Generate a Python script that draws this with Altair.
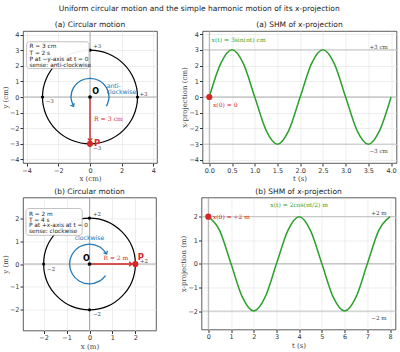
import altair as alt
import pandas as pd

SANS = "DejaVu Sans"
SERIF = "DejaVu Serif"
GREEN = "#2ca02c"
RED = "#d62728"
BLUE = "#1f77b4"
GRAY = "#9a9a9a"

# ---------------- data ----------------
# circle (a), R = 3 cm
circ_a_x = [3.0, 2.77, 2.12, 1.15, 0.0, -1.15, -2.12, -2.77, -3.0, -2.77, -2.12, -1.15, 0.0, 1.15, 2.12, 2.77]
circ_a_y = [0.0, 1.15, 2.12, 2.77, 3.0, 2.77, 2.12, 1.15, 0.0, -1.15, -2.12, -2.77, -3.0, -2.77, -2.12, -1.15]
# circle (b), R = 2 m
circ_b_x = [2.0, 1.85, 1.41, 0.77, 0.0, -0.77, -1.41, -1.85, -2.0, -1.85, -1.41, -0.77, 0.0, 0.77, 1.41, 1.85]
circ_b_y = [0.0, 0.77, 1.41, 1.85, 2.0, 1.85, 1.41, 0.77, 0.0, -0.77, -1.41, -1.85, -2.0, -1.85, -1.41, -0.77]
# blue sense arrows
arc_a_x = [1.04, 1.2, 1.04, 0.6, 0.0, -0.6, -1.04, -1.2, -1.04]
arc_a_y = [-0.6, 0.0, 0.6, 1.04, 1.2, 1.04, 0.6, 0.0, -0.6]
arc_b_x = [0.70, 0.435, 0.0, -0.435, -0.75, -0.87, -0.75, -0.435, 0.0, 0.435, 0.75]
arc_b_y = [-0.51, -0.75, -0.87, -0.75, -0.435, 0.0, 0.435, 0.75, 0.87, 0.75, 0.435]
# SHM (a): x(t) = 3 sin(pi t)
shm_a_t = [0, 0.25, 0.5, 0.75, 1.0, 1.25, 1.5, 1.75, 2.0, 2.25, 2.5, 2.75, 3.0, 3.25, 3.5, 3.75, 4.0]
shm_a_x = [0, 2.12, 3, 2.12, 0, -2.12, -3, -2.12, 0, 2.12, 3, 2.12, 0, -2.12, -3, -2.12, 0]
# SHM (b): x(t) = 2 cos(pi t / 2)
shm_b_t = [0, 0.5, 1, 1.5, 2, 2.5, 3, 3.5, 4, 4.5, 5, 5.5, 6, 6.5, 7, 7.5, 8]
shm_b_x = [2, 1.41, 0, -1.41, -2, -1.41, 0, 1.41, 2, 1.41, 0, -1.41, -2, -1.41, 0, 1.41, 2]

box_a_lines = ["R = 3 cm", "T = 2 s", "P at \u2212y-axis at t = 0", "sense: anti-clockwise"]
box_b_lines = ["R = 2 m", "T = 4 s", "P at +x-axis at t = 0", "sense: clockwise"]

CHEVRON = "M -0.7 -0.8 L 0 0 L 0.7 -0.8"


def df(**kw):
    return pd.DataFrame(kw)


def make_panel(title, xdom, ydom, xticks, yticks, xtitle, ytitle, w, h, xfmt="d"):
    def X(f="x"):
        return alt.X(f"{f}:Q", scale=alt.Scale(domain=xdom, nice=False, zero=False),
                     axis=alt.Axis(values=xticks, title=xtitle, format=xfmt, grid=True))

    def Y(f="y"):
        return alt.Y(f"{f}:Q", scale=alt.Scale(domain=ydom, nice=False, zero=False),
                     axis=alt.Axis(values=yticks, title=ytitle, format="d", grid=True))

    def X2(f):
        return alt.X2(f"{f}:Q")

    def Y2(f):
        return alt.Y2(f"{f}:Q")

    def text(d, color="#333", size=6.5, align="left", font=SANS, weight="normal", baseline="middle"):
        return alt.Chart(d).mark_text(color=color, fontSize=size, align=align, font=font,
                                      fontWeight=weight, baseline=baseline).encode(x=X(), y=Y(), text="text:N")

    def pts(d, color, size, shape="circle"):
        return alt.Chart(d).mark_point(filled=True, color=color, size=size, shape=shape, opacity=1).encode(x=X(), y=Y())

    def line(d, color, width, interp="linear"):
        return alt.Chart(d).mark_line(color=color, strokeWidth=width, interpolate=interp).encode(
            x=X(), y=Y(), order="i:Q")

    def head(d, color, angle, size=40):
        return alt.Chart(d).mark_point(shape=CHEVRON, filled=False, color=color, strokeWidth=1.2,
                                       size=size, angle=angle, opacity=1).encode(x=X(), y=Y())

    def hrule(vals, color, width=0.8):
        return alt.Chart(df(y=vals)).mark_rule(color=color, strokeWidth=width).encode(y=Y())

    def vrule(vals, color, width=0.8):
        return alt.Chart(df(x=vals)).mark_rule(color=color, strokeWidth=width).encode(x=X())

    def box(x0, x1, y0, y1):
        return alt.Chart(df(x=[x0], x2=[x1], y=[y0], y2=[y1])).mark_rect(
            fill="white", stroke="#b0b0b0", strokeWidth=0.8, cornerRadius=3, opacity=0.95
        ).encode(x=X(), x2=X2("x2"), y=Y(), y2=Y2("y2"))

    return dict(X=X, Y=Y, text=text, pts=pts, line=line, head=head, hrule=hrule, vrule=vrule, box=box,
                props=dict(width=w, height=h, title=title))


# ---------- (a) circular motion ----------
p = make_panel("(a) Circular motion", [-4.23, 4.23], [-4.23, 4.23], [-4, -2, 0, 2, 4], [-4, -3, -2, -1, 0, 1, 2, 3, 4],
               "x (cm)", "y (cm)", 134, 132)
circA = alt.layer(
    p["hrule"]([0], GRAY), p["vrule"]([0], GRAY),
    p["line"](df(x=circ_a_x, y=circ_a_y, i=list(range(len(circ_a_x)))), "black", 1.2, "cardinal-closed"),
    p["pts"](df(x=[3, -3, 0, 0], y=[0, 0, 3, -3]), "black", 10),
    p["text"](df(x=[3.12, -2.8, 0.2, 0.2], y=[0.22, -0.28, 3.25, -3.3], text=["+3", "\u22123", "+3", "\u22123"]),
              color="#444", size=5.5, font=SERIF),
    p["line"](df(x=arc_a_x, y=arc_a_y, i=list(range(len(arc_a_x)))), BLUE, 1.3, "cardinal"),
    p["head"](df(x=[arc_a_x[-1]], y=[arc_a_y[-1]]), BLUE, 330),
    p["text"](df(x=[1.05, 1.05], y=[0.72, 0.35], text=["anti-", "clockwise"]), color=BLUE, size=6.2),
    p["line"](df(x=[0, 0], y=[0, -3], i=[0, 1]), RED, 1.3),
    p["head"](df(x=[0], y=[-2.82]), RED, 0),
    p["pts"](df(x=[0], y=[-3]), RED, 38),
    p["pts"](df(x=[0], y=[0]), "black", 14),
    p["text"](df(x=[0.36], y=[0.29], text=["O"]), color="black", size=8, align="center", weight="bold"),
    p["text"](df(x=[0.25], y=[-2.95], text=["P"]), color=RED, size=8.5, weight="bold"),
    p["text"](df(x=[0.25], y=[-1.4], text=["R = 3 cm"]), color=RED, size=6.2, font=SERIF),
    p["box"](-4.0, -0.06, 1.82, 3.54),
    p["text"](df(x=[-3.82] * 4, y=[3.24, 2.85, 2.45, 2.07], text=box_a_lines), color="#222", size=5.8),
).properties(**p["props"])

# ---------- (a) SHM ----------
q = make_panel("(a) SHM of x-projection", [-0.15, 4.12], [-4.2, 4.2], [0, 0.5, 1, 1.5, 2, 2.5, 3, 3.5, 4],
               [-4, -3, -2, -1, 0, 1, 2, 3, 4], "t (s)", "x-projection (cm)", 194, 132, xfmt=".1f")
shmA = alt.layer(
    q["hrule"]([0], GRAY), q["vrule"]([0], GRAY), q["hrule"]([3, -3], "#b5b5b5"),
    q["line"](df(x=shm_a_t, y=shm_a_x, i=list(range(len(shm_a_t)))), GREEN, 1.5, "monotone"),
    q["pts"](df(x=[0], y=[0]), RED, 38),
    q["text"](df(x=[0.05], y=[3.63], text=["x(t) = 3sin(\u03c0t) cm"]), color=GREEN, size=6.0, font=SERIF),
    q["text"](df(x=[0.08], y=[-0.5], text=["x(0) = 0"]), color=RED, size=6.0, font=SERIF),
    q["text"](df(x=[3.93, 3.93], y=[3.17, -3.45], text=["+3 cm", "\u22123 cm"]), color="#444", size=5.6,
              align="right", font=SERIF),
).properties(**q["props"])

# ---------- (b) circular motion ----------
r = make_panel("(b) Circular motion", [-2.9, 2.9], [-2.9, 2.9], [-2, -1, 0, 1, 2], [-2, -1, 0, 1, 2],
               "x (m)", "y (m)", 133, 133)
circB = alt.layer(
    r["hrule"]([0], GRAY), r["vrule"]([0], GRAY),
    r["line"](df(x=circ_b_x, y=circ_b_y, i=list(range(len(circ_b_x)))), "black", 1.2, "cardinal-closed"),
    r["pts"](df(x=[2, -2, 0, 0], y=[0, 0, 2, -2]), "black", 10),
    r["text"](df(x=[2.2, -1.85, 0.15, 0.15], y=[0.14, -0.2, 2.2, -2.2], text=["+2", "\u22122", "+2", "\u22122"]),
              color="#444", size=5.5, font=SERIF),
    r["line"](df(x=arc_b_x, y=arc_b_y, i=list(range(len(arc_b_x)))), BLUE, 1.3, "cardinal"),
    r["head"](df(x=[arc_b_x[-1]], y=[arc_b_y[-1]]), BLUE, 330),
    r["text"](df(x=[0.0], y=[1.12], text=["clockwise"]), color=BLUE, size=6.2, align="center"),
    r["line"](df(x=[0, 2], y=[0, 0], i=[0, 1]), RED, 1.3),
    r["head"](df(x=[1.84], y=[0]), RED, 270),
    r["pts"](df(x=[2], y=[0]), RED, 38),
    r["pts"](df(x=[0], y=[0]), "black", 14),
    r["text"](df(x=[-0.14], y=[0.22], text=["O"]), color="black", size=8, align="center", weight="bold"),
    r["text"](df(x=[2.1], y=[0.3], text=["P"]), color=RED, size=8.5, weight="bold"),
    r["text"](df(x=[1.15], y=[0.27], text=["R = 2 m"]), color=RED, size=6.0, align="center", font=SERIF),
    r["box"](-2.77, -0.32, 1.25, 2.42),
    r["text"](df(x=[-2.64] * 4, y=[2.19, 1.94, 1.69, 1.43], text=box_b_lines), color="#222", size=5.8),
).properties(**r["props"])

# ---------- (b) SHM ----------
s = make_panel("(b) SHM of x-projection", [-0.3, 8.24], [-2.78, 2.81], [0, 1, 2, 3, 4, 5, 6, 7, 8],
               [-2, -1, 0, 1, 2], "t (s)", "x-projection (m)", 194, 132)
shmB = alt.layer(
    s["hrule"]([0], GRAY), s["vrule"]([0], GRAY), s["hrule"]([2, -2], "#b5b5b5"),
    s["line"](df(x=shm_b_t, y=shm_b_x, i=list(range(len(shm_b_t)))), GREEN, 1.5, "monotone"),
    s["pts"](df(x=[0], y=[2]), RED, 38),
    s["text"](df(x=[4.0], y=[2.5], text=["x(t) = 2cos(\u03c0t/2) m"]), color=GREEN, size=6.0, align="center",
              font=SERIF),
    s["text"](df(x=[0.2], y=[2.0], text=["x(0) = +2 m"]), color=RED, size=6.0, font=SERIF),
    s["text"](df(x=[7.85, 7.85], y=[2.17, -2.28], text=["+2 m", "\u22122 m"]), color="#444", size=5.6,
              align="right", font=SERIF),
).properties(**s["props"])

chart = alt.vconcat(
    alt.hconcat(circA, shmA, spacing=22.5),
    alt.hconcat(circB, shmB, spacing=22.5),
    spacing=4.5,
    title=alt.TitleParams("Uniform circular motion and the simple harmonic motion of its x-projection",
                          font=SANS, fontSize=7.5, fontWeight="normal", color="#222", anchor="middle", offset=8),
).properties(
    padding={"left": 1, "top": 5, "right": 0, "bottom": 0}
).configure_view(
    stroke="#333", strokeWidth=0.8
).configure_axis(
    labelFont=SANS, labelFontSize=6.5, labelColor="#333", titleFont=SERIF, titleFontSize=7,
    titleFontWeight="normal", titleColor="#444", tickColor="#333", tickSize=3, domain=False,
    gridColor="#e3e3e3", gridWidth=0.6, labelPadding=1, titlePadding=1
).configure_title(
    font=SANS, fontSize=7.5, fontWeight="normal", color="#222", offset=2
)

chart.save("out.html", embed_options={"renderer": "svg", "actions": False})
